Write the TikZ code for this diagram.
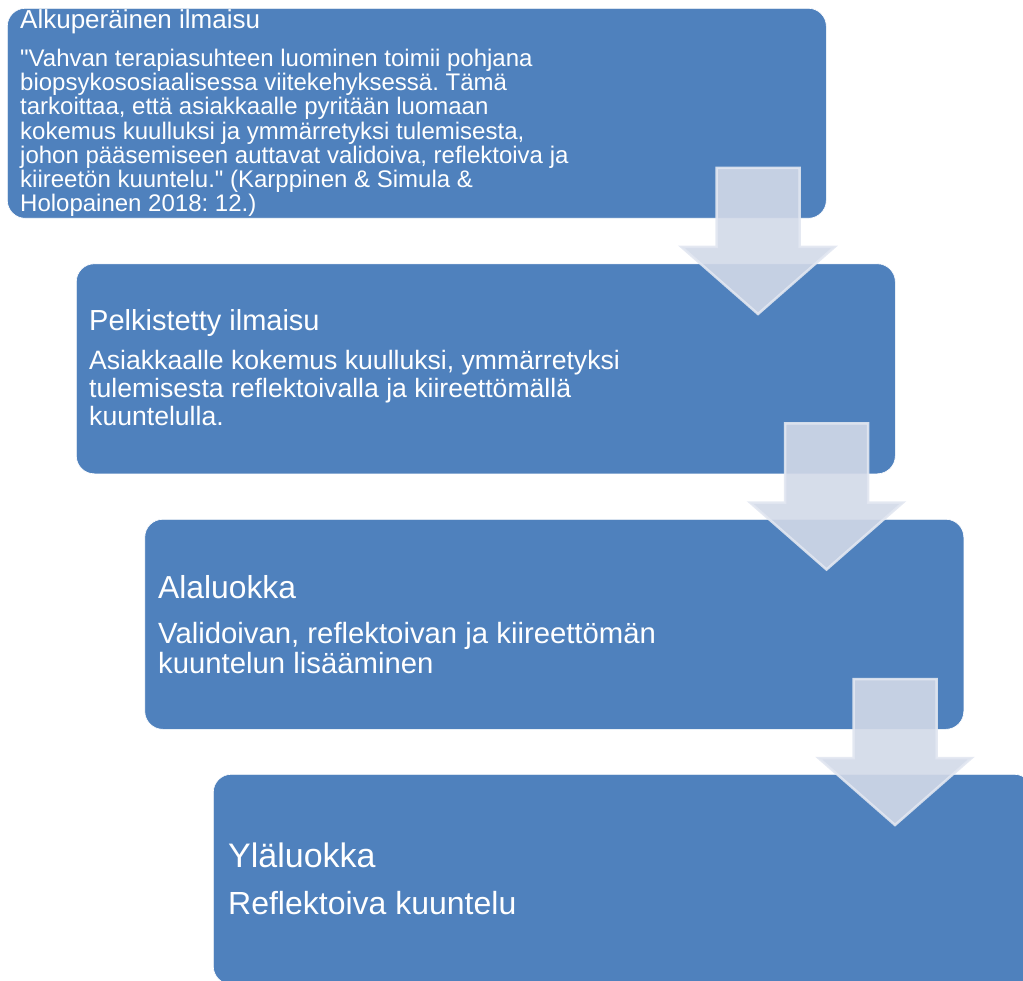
\documentclass[tikz,border=0pt]{standalone}
\usepackage{fontspec}
\setmainfont{Liberation Sans}[Ligatures=TeXOff]
\frenchspacing
\definecolor{boxblue}{RGB}{79,129,189}
\definecolor{arrowfill}{RGB}{210,217,232}
\definecolor{arrowline}{RGB}{226,231,241}
\begin{document}
\begin{tikzpicture}[x=1pt,y=-1pt,
  stepbox/.style={fill=boxblue, draw=white, line width=0.6pt, rounded corners=18pt,
    minimum width=819pt, minimum height=210pt, anchor=north west, inner sep=0pt},
  txt/.style={text=white, anchor=base west, inner sep=0pt, align=left},
  blockarrow/.style={fill=arrowfill, fill opacity=0.9, draw=arrowline, draw opacity=0.9,
    line width=2.5pt, line join=miter}]
\useasboundingbox (0,0) rectangle (1023,981);
\clip (0,0) rectangle (1023,981);
% boxes
\node[stepbox] (b1) at (7,8) {};
\node[stepbox] (b2) at (76,263.5) {};
\node[stepbox] (b3) at (144.5,519) {};
\node[stepbox] (b4) at (213,774) {};
% texts (multi-line nodes: base = baseline of last line)
\node[txt, font=\fontsize{26}{30}\selectfont] (t1) at (20,29) {Alkuperäinen ilmaisu};
\node[txt, font=\fontsize{24}{24.2}\selectfont] (d1) at (20,211.7)
  {"Vahvan terapiasuhteen luominen toimii pohjana\\
   biopsykososiaalisessa viitekehyksessä. Tämä\\
   tarkoittaa, että asiakkaalle pyritään luomaan\\
   kokemus kuulluksi ja ymmärretyksi tulemisesta,\\
   johon pääsemiseen auttavat validoiva, reflektoiva ja\\
   kiireetön kuuntelu." (Karppinen \& Simula \&\\
   Holopainen 2018: 12.)};
\node[txt, font=\fontsize{29}{33}\selectfont] (t2) at (89,331) {Pelkistetty ilmaisu};
\node[txt, font=\fontsize{26.6}{27.8}\selectfont] (d2) at (89,425.6)
  {Asiakkaalle kokemus kuulluksi, ymmärretyksi\\
   tulemisesta reflektoivalla ja kiireettömällä\\
   kuuntelulla.};
\node[txt, font=\fontsize{31.8}{36}\selectfont] (t3) at (158,598) {Alaluokka};
\node[txt, font=\fontsize{29.3}{29.5}\selectfont] (d3) at (158,673)
  {Validoivan, reflektoivan ja kiireettömän\\
   kuuntelun lisääminen};
\node[txt, font=\fontsize{34}{38}\selectfont] (t4) at (228,867) {Yläluokka};
\node[txt, font=\fontsize{32}{36}\selectfont] (d4) at (228,914) {Reflektoiva kuuntelu};
% arrows
\foreach \i in {0,1,2}{
  \pgfmathsetmacro\cx{758+68.5*\i}
  \pgfmathsetmacro\ty{168+255.5*\i}
  \draw[blockarrow] (\cx-41.5,\ty) -- (\cx+41.5,\ty) -- (\cx+41.5,\ty+79)
    -- (\cx+76.5,\ty+79) -- (\cx,\ty+146) -- (\cx-76.5,\ty+79)
    -- (\cx-41.5,\ty+79) -- cycle;
}
\end{tikzpicture}
\end{document}
